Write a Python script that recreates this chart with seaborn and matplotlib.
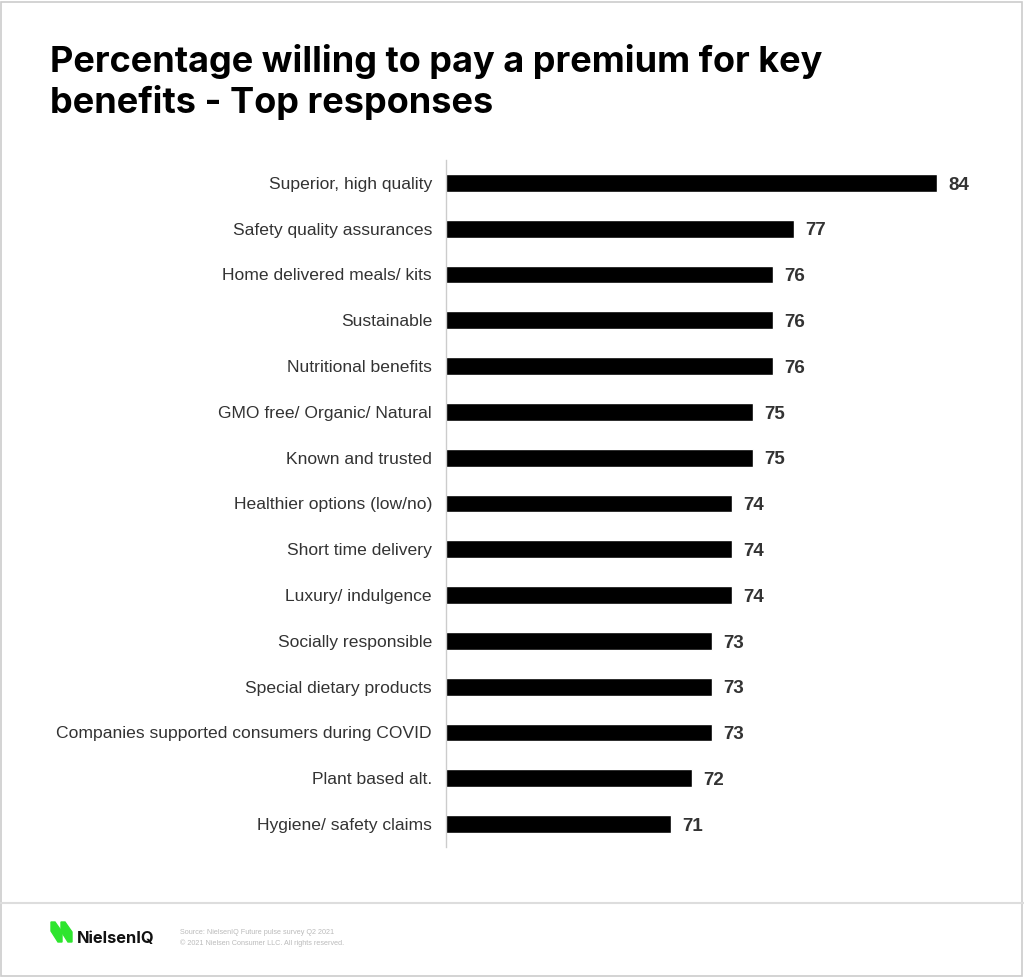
import numpy as np
import pandas as pd
import matplotlib
matplotlib.use("Agg")
import matplotlib.pyplot as plt
import seaborn as sns
from matplotlib.patches import Polygon, Rectangle
from matplotlib.lines import Line2D

# data
benefits = ["Superior, high quality", "Safety quality assurances", "Home delivered meals/ kits",
            "Sustainable", "Nutritional benefits", "GMO free/ Organic/ Natural",
            "Known and trusted", "Healthier options (low/no)", "Short time delivery",
            "Luxury/ indulgence", "Socially responsible", "Special dietary products",
            "Companies supported consumers during COVID", "Plant based alt.",
            "Hygiene/ safety claims"]
pct = [84, 77, 76, 76, 76, 75, 75, 74, 74, 74, 73, 73, 73, 72, 71]

df = pd.DataFrame({"benefit": benefits, "pct": pct})

sns.set_theme(style="white")
plt.rcParams['font.family'] = ['Liberation Sans', 'DejaVu Sans']

fig = plt.figure(figsize=(10.24, 9.77), dpi=100)
ax = fig.add_axes([446/1024, 1-847/977, (957.5-446)/1024, (847-160)/977])

sns.barplot(data=df, x="pct", y="benefit", color="black", width=0.39,
            saturation=1, ax=ax, orient="h")
ax.set_xlim(60, 85)
ax.set_ylim(14.5, -0.5)

# value labels
for i, v in enumerate(df["pct"]):
    ax.text(v + 0.55, i + 0.05, str(v), va="center", ha="left",
            fontsize=13.5, fontweight="bold", color="#333333")

ax.set_xlabel("")
ax.set_ylabel("")
ax.set_xticks([])
ax.tick_params(axis="y", length=0, pad=10, labelsize=12.6, labelcolor="#333333")
for lab in ax.get_yticklabels():
    lab.set_va("center_baseline")
for s in ["top", "right", "bottom"]:
    ax.spines[s].set_visible(False)
ax.spines["left"].set_color("#cccccc")
ax.spines["left"].set_linewidth(1)

# title
fig.text(50/1024, 1-82/977, "Percentage willing to pay a premium for key\nbenefits - Top responses",
         ha="left", va="center", fontsize=26, fontweight="bold", color="black",
         family=["Inter", "DejaVu Sans"], linespacing=1.18)

# frame and footer line
fig.add_artist(Rectangle((0.001, 0.001), 0.997, 0.997, transform=fig.transFigure,
                         fill=False, edgecolor="#cccccc", linewidth=1.2))
fig.add_artist(Line2D([0, 1], [1-903/977, 1-903/977], transform=fig.transFigure,
                      color="#dddddd", linewidth=1.5))

# logo
def px(x, y):
    return (x/1024, 1-y/977)

green = "#2ee52e"
for dx in (0, 10):
    fig.add_artist(Polygon([px(51 + dx, 922), px(55 + dx, 922), px(62 + dx, 932),
                            px(62 + dx, 942), px(58 + dx, 942), px(51 + dx, 931)],
                           closed=True, transform=fig.transFigure, color=green))
fig.text(77/1024, 1-938/977, "NielsenIQ", ha="left", va="center", fontsize=11.8,
         fontweight="bold", color="#111111", family=["Inter", "DejaVu Sans"])

fig.text(180/1024, 1-938/977, "Source: NielsenIQ Future pulse survey Q2 2021\n"
         "\u00a9 2021 Nielsen Consumer LLC. All rights reserved.",
         ha="left", va="center", fontsize=5.2, color="#bbbbbb", linespacing=1.5)

fig.savefig("out.png", dpi=100)
